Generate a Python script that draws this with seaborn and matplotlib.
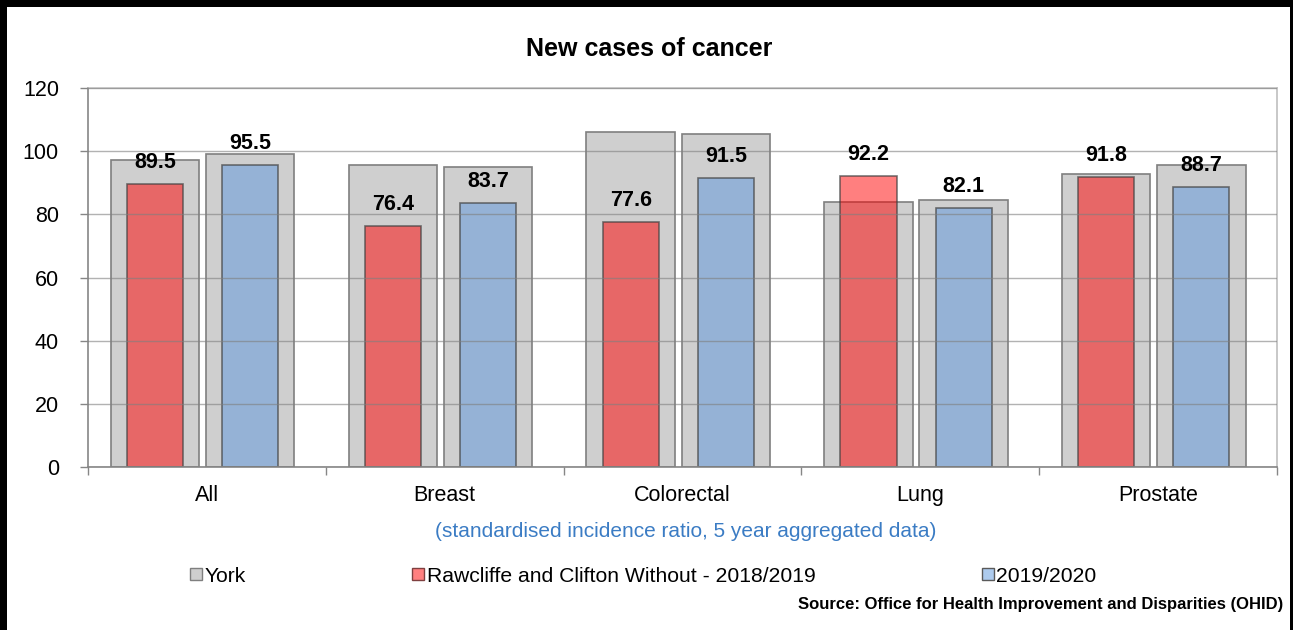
import matplotlib
matplotlib.use("Agg")
import matplotlib.pyplot as plt
from matplotlib.patches import Patch, Rectangle
import pandas as pd
import seaborn as sns

# --- data -------------------------------------------------------------
categories = ["All", "Breast", "Colorectal", "Lung", "Prostate"]
periods = ["2018/2019", "2019/2020"]
york_2018_19 = [97.2, 95.6, 106.2, 84.0, 92.7]
york_2019_20 = [99.2, 95.0, 105.5, 84.5, 95.7]
ward_2018_19 = [89.5, 76.4, 77.6, 92.2, 91.8]
ward_2019_20 = [95.5, 83.7, 91.5, 82.1, 88.7]
y_ticks = [0, 20, 40, 60, 80, 100, 120]

york_df = pd.DataFrame({
    "category": categories * 2,
    "period": [periods[0]] * 5 + [periods[1]] * 5,
    "value": york_2018_19 + york_2019_20,
})
ward_df = pd.DataFrame({
    "category": categories * 2,
    "period": [periods[0]] * 5 + [periods[1]] * 5,
    "value": ward_2018_19 + ward_2019_20,
})

# --- style ------------------------------------------------------------
sns.set_theme(style="white")
plt.rcParams["font.family"] = ["Liberation Sans", "DejaVu Sans"]
plt.rcParams["text.color"] = "black"

grey_face = "#CFCFCF"
red_face = (1.0, 0.0, 0.0, 0.5)
blue_face = (0.36, 0.59, 0.87, 0.5)

fig = plt.figure(figsize=(12.93, 6.30), dpi=100)
ax = fig.add_axes([0.0681, 0.2587, 0.9195, 0.6016])

# York comparison bars (wide, behind)
sns.barplot(data=york_df, x="category", y="value", hue="period",
            hue_order=periods, order=categories,
            palette=[grey_face, grey_face], width=0.8, gap=0.07,
            edgecolor="#7F7F7F", linewidth=1.2, legend=False, ax=ax,
            errorbar=None, saturation=1)

# Ward bars (narrow, in front)
sns.barplot(data=ward_df, x="category", y="value", hue="period",
            hue_order=periods, order=categories,
            palette=["#FF0000", "#5B97DE"], width=0.8, gap=0.41,
            edgecolor="#5A5A5A", linewidth=1.2, legend=False, ax=ax,
            errorbar=None, saturation=1)

# the bar pairs sit slightly left of each category centre
for bar in ax.patches:
    bar.set_x(bar.get_x() - 0.018)

# semi-transparent fills for the ward bars, with value labels
for cont, face in zip(ax.containers[2:], [red_face, blue_face]):
    for bar in cont:
        bar.set_facecolor(face)
        bar.set_edgecolor((0.25, 0.25, 0.25, 0.7))
    ax.bar_label(cont, fmt="%.1f", padding=8, fontsize=15.5,
                 fontweight="bold", color="black")

# --- axes -------------------------------------------------------------
ax.set_xlim(-0.5, 4.5)
ax.set_ylim(0, 120)
ax.set_yticks(y_ticks)
ax.set_xlabel("")
ax.set_ylabel("")
ax.set_axisbelow(False)
ax.yaxis.grid(True, color="#7F7F7F", alpha=0.6, linewidth=1.0)
ax.xaxis.grid(False)

ax.set_xticks(range(len(categories)))
ax.set_xticklabels(categories)
ax.set_xticks([i - 0.5 for i in range(len(categories) + 1)], minor=True)
ax.tick_params(axis="x", which="major", length=0, pad=13, labelsize=15.5,
               labelcolor="black")
ax.tick_params(axis="x", which="minor", length=6, width=1, color="#868686",
               direction="out", bottom=True)
ax.tick_params(axis="y", which="major", length=6, width=1, color="#868686",
               direction="out", left=True, pad=15, labelsize=15.5,
               labelcolor="black")

for side in ["top", "right"]:
    ax.spines[side].set_color("#BFBFBF")
    ax.spines[side].set_linewidth(1.2)
for side in ["left", "bottom"]:
    ax.spines[side].set_color("#868686")
    ax.spines[side].set_linewidth(1.2)

# --- text -------------------------------------------------------------
fig.text(0.502, 0.922, "New cases of cancer", ha="center", va="center",
         fontsize=18, fontweight="bold", color="black")
fig.text(0.5306, 0.157, "(standardised incidence ratio, 5 year aggregated data)",
         ha="center", va="center", fontsize=15, color="#3B7CC4")
fig.text(0.9925, 0.040,
         "Source: Office for Health Improvement and Disparities (OHID)",
         ha="right", va="center", fontsize=12, fontweight="bold", color="black")

handles = [
    Patch(facecolor=grey_face, edgecolor="#7F7F7F", label="York"),
    Patch(facecolor="#FF8080", edgecolor="#7F4040",
          label="Rawcliffe and Clifton Without - 2018/2019"),
    Patch(facecolor="#ADCBEE", edgecolor="#5A5A5A", label="2019/2020"),
]
leg = fig.legend(handles=handles, loc="center", bbox_to_anchor=(0.4976, 0.0857),
                 ncol=3, frameon=False, fontsize=15.2, handlelength=0.55,
                 handleheight=0.55, handletextpad=0.12, columnspacing=7.9)
for t in leg.get_texts():
    t.set_color("black")

# --- outer frame --------------------------------------------------------
fig.patches.append(Rectangle((0, 1 - 7 / 630), 1, 7 / 630, transform=fig.transFigure,
                             facecolor="black", edgecolor="none", zorder=10))
fig.patches.append(Rectangle((0, 0), 7 / 1293, 1, transform=fig.transFigure,
                             facecolor="black", edgecolor="none", zorder=10))
fig.patches.append(Rectangle((1 - 3 / 1293, 0), 3 / 1293, 1, transform=fig.transFigure,
                             facecolor="black", edgecolor="none", zorder=10))

fig.savefig("out.png", dpi=100, facecolor="white")
